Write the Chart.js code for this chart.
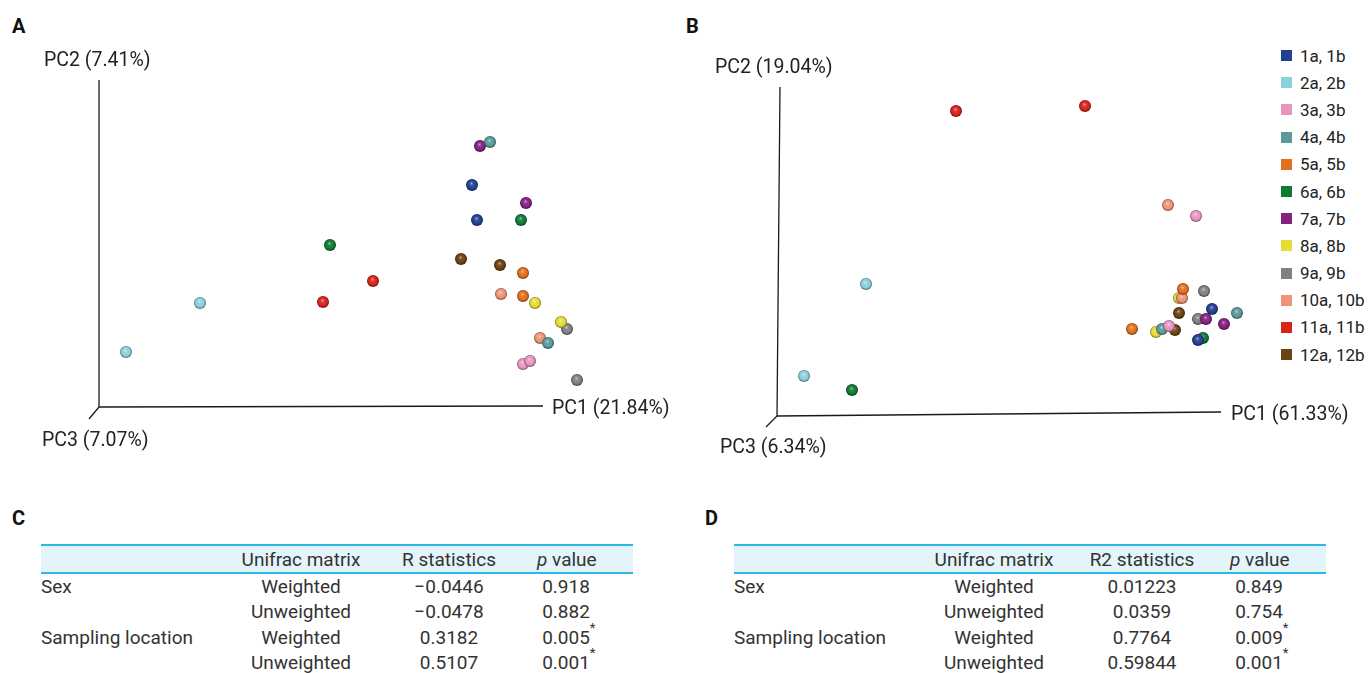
<!DOCTYPE html>
<html>
<head>
<meta charset="utf-8">
<script src="https://cdn.jsdelivr.net/npm/chart.js@4"></script>
<style>
  body { margin: 0; width: 1371px; height: 673px; background: #fff; overflow: hidden; position: relative; font-family: Roboto, "Noto Sans", sans-serif; color: #333; }
  canvas { position: absolute; top: 0; }
  .letter { position: absolute; font: 700 20px Roboto, sans-serif; color: #111; line-height: 1; }
  .axlbl { position: absolute; font: 19.5px Roboto, sans-serif; color: #222; line-height: 20px; white-space: nowrap; }
  #legend { position: absolute; left: 1281px; top: 42px; }
  #legend div { height: 27.2px; display: flex; align-items: center; font: 17px Roboto, sans-serif; color: #222; white-space: nowrap; }
  #legend span.sw { width: 11px; height: 11px; margin-right: 8px; display: inline-block; }
  table { position: absolute; top: 544px; border-collapse: collapse; table-layout: fixed; width: 592px; font: 19px Roboto, sans-serif; color: #333; }
  thead tr { background: #e4f4fb; }
  thead th { font-weight: 400; height: 26px; border-top: 2px solid #2db7e8; border-bottom: 2px solid #2db7e8; padding: 0; white-space: nowrap; overflow: visible; }
  td { height: 25.3px; padding: 0; white-space: nowrap; overflow: visible; }
  td.c, th { text-align: center; }
  .star { position: relative; }
  .star sup { position: absolute; left: 100%; top: -6px; font-size: 13px; }
</style>
</head>
<body>
<div class="letter" style="left:12px;top:16px">A</div>
<div class="letter" style="left:686px;top:16px">B</div>
<div class="letter" style="left:12px;top:508px">C</div>
<div class="letter" style="left:705px;top:508px">D</div>

<canvas id="pcoaA" width="680" height="460" style="left:0"></canvas>
<canvas id="pcoaB" width="600" height="460" style="left:680px"></canvas>

<div class="axlbl" style="left:44px;top:50px">PC2 (7.41%)</div>
<div class="axlbl" style="left:552px;top:398px">PC1 (21.84%)</div>
<div class="axlbl" style="left:42px;top:430px">PC3 (7.07%)</div>
<div class="axlbl" style="left:715px;top:57px">PC2 (19.04%)</div>
<div class="axlbl" style="left:1231px;top:404px">PC1 (61.33%)</div>
<div class="axlbl" style="left:720px;top:437px">PC3 (6.34%)</div>

<div id="legend"></div>
<table id="tableC" style="left:41px"></table>
<table id="tableD" style="left:734px"></table>

<script>
// sample groups (each subject sampled twice: a, b)
const groups = ['1a, 1b', '2a, 2b', '3a, 3b', '4a, 4b', '5a, 5b', '6a, 6b',
                '7a, 7b', '8a, 8b', '9a, 9b', '10a, 10b', '11a, 11b', '12a, 12b'];
const groupColors = ['#233f8f', '#8dcfdc', '#e896c0', '#5a9a9a', '#e2701c', '#0f7a35',
                     '#852181', '#e8dc33', '#808080', '#ee9478', '#d8231a', '#6b4211'];

// panel A (weighted), arbitrary axis units
const pc1A = [[373, 378], [101, 27], [424, 431], [391, 449], [424, 424], [422, 231],
              [381, 427], [436, 462], [468, 478], [402, 441], [274, 224], [362, 401]];
const pc2A = [[222, 187], [104, 55], [43, 46], [265, 64], [134, 111], [187, 162],
              [261, 204], [104, 85], [78, 27], [113, 69], [126, 105], [148, 142]];

// panel B (unweighted)
const pc1B = [[434, 420], [88, 26], [418, 391], [459, 384], [405, 354], [74, 425],
              [428, 446], [401, 378], [426, 420], [390, 404], [178, 307], [401, 397]];
const pc2B = [[106, 75], [131, 39], [199, 89], [102, 86], [126, 86], [25, 77],
              [96, 91], [117, 83], [124, 96], [210, 117], [304, 309], [102, 85]];

// tables C and D
const factors = ['Sex', '', 'Sampling location', ''];
const matrices = ['Weighted', 'Unweighted', 'Weighted', 'Unweighted'];
const rStat = ['\u22120.0446', '\u22120.0478', '0.3182', '0.5107'];
const pAnosim = ['0.918', '0.882', '0.005*', '0.001*'];
const r2Stat = ['0.01223', '0.0359', '0.7764', '0.59844'];
const pAdonis = ['0.849', '0.754', '0.009*', '0.001*'];

function mix(hex, other, t) {
  const a = parseInt(hex.slice(1), 16), b = parseInt(other.slice(1), 16);
  const ch = s => Math.round(((a >> s) & 255) * (1 - t) + ((b >> s) & 255) * t);
  return `rgb(${ch(16)},${ch(8)},${ch(0)})`;
}

function sphere(hex, r) {
  const s = 2 * r + 2, m = s / 2;
  const c = document.createElement('canvas');
  c.width = c.height = s;
  const ctx = c.getContext('2d');
  const g = ctx.createRadialGradient(m - r * 0.1, m - r * 0.3, 0, m, m, r);
  g.addColorStop(0, mix(hex, '#ffffff', 0.6));
  g.addColorStop(0.3, mix(hex, '#ffffff', 0.1));
  g.addColorStop(0.7, hex);
  g.addColorStop(1, mix(hex, '#000000', 0.45));
  ctx.fillStyle = g;
  ctx.beginPath();
  ctx.arc(m, m, r, 0, Math.PI * 2);
  ctx.fill();
  return c;
}

const pcAxes = {
  id: 'pcAxes',
  beforeDatasetsDraw(chart, args, opts) {
    const { x, y } = chart.scales;
    const ctx = chart.ctx;
    ctx.save();
    ctx.strokeStyle = '#1a1a1a';
    ctx.lineWidth = 1.3;
    opts.lines.forEach(l => {
      ctx.beginPath();
      ctx.moveTo(x.getPixelForValue(l[0]), y.getPixelForValue(l[1]));
      ctx.lineTo(x.getPixelForValue(l[2]), y.getPixelForValue(l[3]));
      ctx.stroke();
    });
    ctx.restore();
  }
};

function makePcoa(id, pc1, pc2, xRange, yRange, lines, behind) {
  const datasets = groups.map((g, i) => ({
    label: g,
    data: pc1[i].map((v, k) => ({ x: v, y: pc2[i][k] })),
    pointStyle: sphere(groupColors[i], 6),
    pointRadius: 6,
    order: behind.includes(i) ? 1 : 0,
    clip: false
  }));
  new Chart(document.getElementById(id), {
    type: 'scatter',
    data: { datasets },
    options: {
      responsive: false,
      animation: false,
      events: [],
      layout: { padding: 0, autoPadding: false },
      plugins: { legend: { display: false }, tooltip: { enabled: false }, pcAxes: { lines } },
      scales: {
        x: { type: 'linear', display: false, min: xRange[0], max: xRange[1] },
        y: { type: 'linear', display: false, min: yRange[0], max: yRange[1] }
      }
    },
    plugins: [pcAxes]
  });
}

makePcoa('pcoaA', pc1A, pc2A, [-99, 581], [-53, 407],
  [[0, 0, 0, 327], [0, 0, 444, 1], [0, 0, -10, -12]], []);
makePcoa('pcoaB', pc1B, pc2B, [-98, 502], [-45, 415],
  [[-1, -1, 2, 328], [-1, -1, 443, 3], [-1, -1, -12, -12]], [7]);

// legend
const legend = document.getElementById('legend');
groups.forEach((g, i) => {
  legend.innerHTML += `<div><span class="sw" style="background:${groupColors[i]}"></span>${g}</div>`;
});

function cell(v) {
  if (v.endsWith('*')) return `<span class="star">${v.slice(0, -1)}<sup>*</sup></span>`;
  return v;
}

function fillTable(id, statName, stat, p) {
  let html = '<colgroup><col style="width:200px"><col style="width:120px"><col style="width:176px"><col style="width:58px"><col style="width:38px"></colgroup>';
  html += `<thead><tr><th></th><th>Unifrac matrix</th><th>${statName}</th><th><i>p</i> value</th><th></th></tr></thead><tbody>`;
  factors.forEach((f, i) => {
    html += `<tr><td>${f}</td><td class="c">${matrices[i]}</td><td class="c">${stat[i]}</td><td class="c">${cell(p[i])}</td><td></td></tr>`;
  });
  html += '</tbody>';
  document.getElementById(id).innerHTML = html;
}

fillTable('tableC', 'R statistics', rStat, pAnosim);
fillTable('tableD', 'R2 statistics', r2Stat, pAdonis);
</script>
</body>
</html>
